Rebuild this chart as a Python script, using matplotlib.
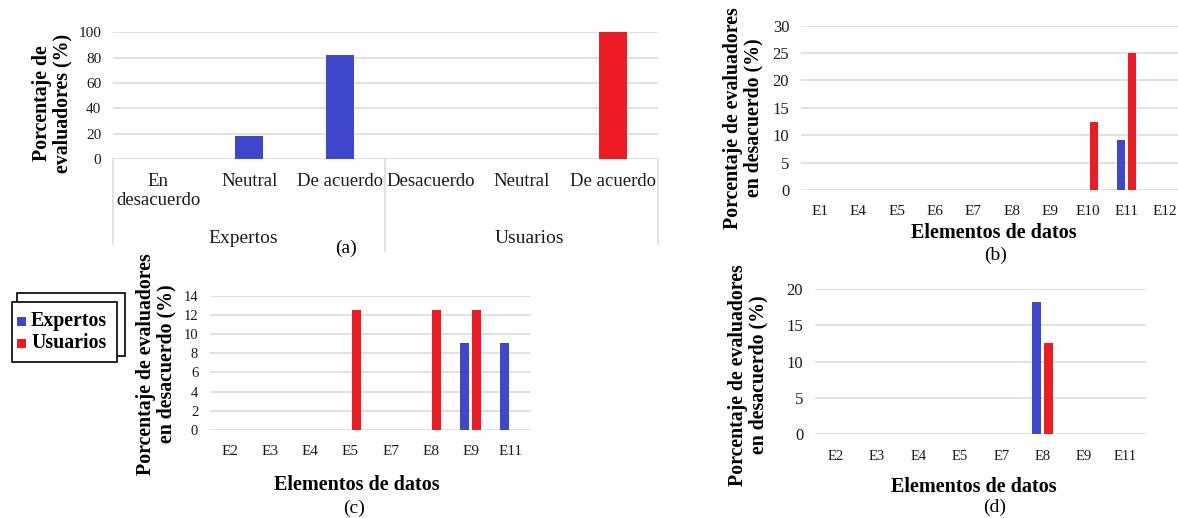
import matplotlib
matplotlib.use("Agg")
import matplotlib.pyplot as plt
from matplotlib.patches import Rectangle
from matplotlib.transforms import blended_transform_factory
import numpy as np

plt.rcParams['font.family'] = ['Liberation Serif', 'DejaVu Serif']

# ---- data ----
series_names = ["Expertos", "Usuarios"]
color_expertos = "#3f48cc"
color_usuarios = "#ed1c24"

# (a) overall agreement by group
cats_a_expertos = ["En\ndesacuerdo", "Neutral", "De acuerdo"]
cats_a_usuarios = ["Desacuerdo", "Neutral", "De acuerdo"]
vals_a_expertos = [0, 18.18, 81.82]
vals_a_usuarios = [0, 0, 100]

# (b)
cats_b = ["E1", "E4", "E5", "E6", "E7", "E8", "E9", "E10", "E11", "E12"]
vals_b_expertos = [0, 0, 0, 0, 0, 0, 0, 0, 9.09, 0]
vals_b_usuarios = [0, 0, 0, 0, 0, 0, 0, 12.5, 25, 0]

# (c)
cats_c = ["E2", "E3", "E4", "E5", "E7", "E8", "E9", "E11"]
vals_c_expertos = [0, 0, 0, 0, 0, 0, 9.09, 9.09]
vals_c_usuarios = [0, 0, 0, 12.5, 0, 12.5, 12.5, 0]

# (d)
cats_d = ["E2", "E3", "E4", "E5", "E7", "E8", "E9", "E11"]
vals_d_expertos = [0, 0, 0, 0, 0, 18.18, 0, 0]
vals_d_usuarios = [0, 0, 0, 0, 0, 12.5, 0, 0]

W, H = 1178, 518
fig = plt.figure(figsize=(W / 100, H / 100), dpi=100)

GRID = "#d9d9d9"
TICK_COLOR = "#1a1a1a"


def axes_px(x0, x1, y_top, y_bottom):
    return fig.add_axes([x0 / W, 1 - y_bottom / H, (x1 - x0) / W, (y_bottom - y_top) / H])


def fig_text(x, y, s, **kw):
    fig.text(x / W, 1 - y / H, s, ha="center", va="center", **kw)


def style_axes(ax, ymax, ystep, xtick_size=11, ytick_size=11.5, xpad=11):
    ax.set_ylim(0, ymax)
    ax.set_yticks(np.arange(0, ymax + 0.001, ystep))
    for s in ax.spines.values():
        s.set_visible(False)
    ax.yaxis.grid(True, color=GRID, linewidth=1.1)
    ax.set_axisbelow(True)
    ax.tick_params(axis="both", length=0, colors=TICK_COLOR)
    ax.tick_params(axis="y", pad=8.5, labelsize=ytick_size)
    ax.tick_params(axis="x", pad=xpad, labelsize=xtick_size)
    ax.set_facecolor("none")


def grouped(ax, cats, v_exp, v_usr, width, offset):
    x = np.arange(len(cats))
    ax.bar(x - offset, v_exp, width, color=color_expertos, linewidth=0)
    ax.bar(x + offset, v_usr, width, color=color_usuarios, linewidth=0)
    ax.set_xlim(-0.5, len(cats) - 0.5)
    ax.set_xticks(x)
    ax.set_xticklabels(cats)


ylabel_kw = dict(rotation=90, fontsize=14.3, fontweight="bold", linespacing=1.05,
                 multialignment="center")

# ---- (a) ----
ax_a = axes_px(113, 658, 32.3, 159.3)
cats_a = cats_a_expertos + cats_a_usuarios
vals_a = vals_a_expertos + vals_a_usuarios
colors_a = [color_expertos] * len(vals_a_expertos) + [color_usuarios] * len(vals_a_usuarios)
xa = np.arange(len(cats_a))
ax_a.bar(xa, vals_a, 0.31, color=colors_a, linewidth=0)
ax_a.set_xlim(-0.5, len(cats_a) - 0.5)
style_axes(ax_a, 100, 20, ytick_size=11, xpad=10)
ax_a.set_xticks(xa)
ax_a.set_xticklabels(cats_a, fontsize=13.5, linespacing=1.12)
tr = blended_transform_factory(ax_a.transData, ax_a.transAxes)
n_e = len(cats_a_expertos)
for xs, y_end in [(-0.5, -0.665), (n_e - 0.5, -0.72), (len(cats_a) - 0.5, -0.665)]:
    ax_a.plot([xs, xs], [0, y_end], color=GRID, linewidth=1.1, transform=tr, clip_on=False)
ax_a.text((n_e - 1) / 2 - 0.07, -0.62, series_names[0], transform=tr, ha="center", va="center",
          fontsize=14, color=TICK_COLOR)
ax_a.text(n_e + (len(cats_a_usuarios) - 1) / 2 + 0.08, -0.62, series_names[1], transform=tr,
          ha="center", va="center", fontsize=14, color=TICK_COLOR)
fig_text(346, 248, "(a)", fontsize=14)
fig_text(52, 103, "Porcentaje de\nevaluadores (%)", **ylabel_kw)

# ---- (b) ----
ax_b = axes_px(801, 1184, 25.7, 190)
grouped(ax_b, cats_b, vals_b_expertos, vals_b_usuarios, 0.21, 0.144)
style_axes(ax_b, 30, 5, xtick_size=11, ytick_size=12)
fig_text(743, 118, "Porcentaje de evaluadores\nen desacuerdo (%)", **ylabel_kw)
fig_text(994, 233, "Elementos de datos", fontsize=14.5, fontweight="bold")
fig_text(996, 255, "(b)", fontsize=14)

# ---- (c) ----
ax_c = axes_px(210, 531, 295.7, 430)
grouped(ax_c, cats_c, vals_c_expertos, vals_c_usuarios, 0.225, 0.15)
style_axes(ax_c, 14, 2, xtick_size=11, ytick_size=10.5)
fig_text(156, 364, "Porcentaje de evaluadores\nen desacuerdo (%)", **ylabel_kw)
fig_text(357, 485, "Elementos de datos", fontsize=14.5, fontweight="bold")
fig_text(354, 508, "(c)", fontsize=14)

# ---- (d) ----
ax_d = axes_px(815, 1146, 289, 434.3)
grouped(ax_d, cats_d, vals_d_expertos, vals_d_usuarios, 0.22, 0.145)
style_axes(ax_d, 20, 5, xtick_size=10.5, ytick_size=12)
fig_text(748, 375, "Porcentaje de evaluadores\nen desacuerdo (%)", **ylabel_kw)
fig_text(974, 487, "Elementos de datos", fontsize=14.5, fontweight="bold")
fig_text(995, 507, "(d)", fontsize=14)

# ---- legend with a stacked-box frame ----
def rect_px(x0, y0, x1, y1, **kw):
    fig.patches.append(Rectangle((x0 / W, 1 - y1 / H), (x1 - x0) / W, (y1 - y0) / H,
                                 transform=fig.transFigure, figure=fig, **kw))

rect_px(17, 293, 125, 356, facecolor="white", edgecolor="black", linewidth=1.2)
rect_px(12, 302, 117, 362, facecolor="white", edgecolor="black", linewidth=1.2)
for i, (name, col) in enumerate(zip(series_names, [color_expertos, color_usuarios])):
    yc = 321 + i * 22
    rect_px(17, yc - 4.5, 26, yc + 4.5, facecolor=col, edgecolor="none")
    fig.text(31 / W, 1 - yc / H, name, ha="left", va="center", fontsize=14.3,
             fontweight="bold", color="black")

fig.savefig("out.png", dpi=100, facecolor="white")
